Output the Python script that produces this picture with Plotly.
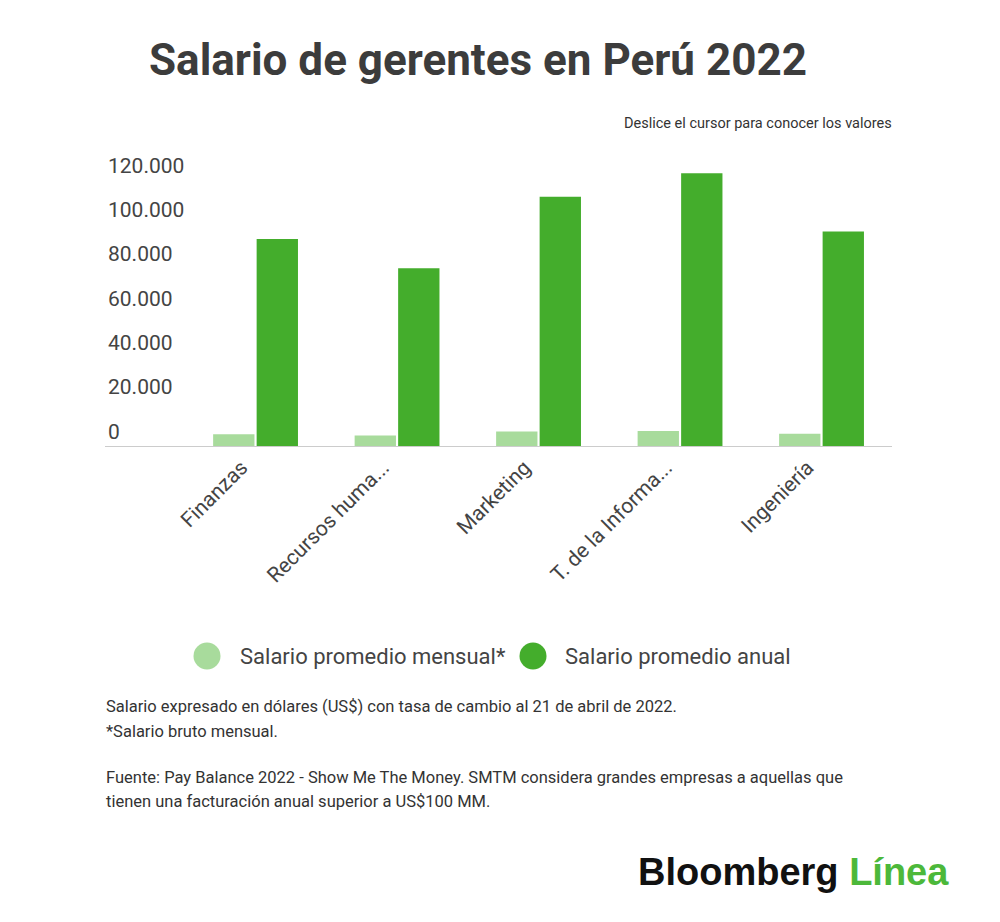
import plotly.graph_objects as go

categories = ["Finanzas", "Recursos huma...", "Marketing", "T. de la Informa...", "Ingeniería"]
mensual = [5300, 4700, 6500, 6800, 5500]
anual = [93500, 80200, 112500, 123100, 96800]
y_ticks = [0, 20000, 40000, 60000, 80000, 100000, 120000]

LIGHT = "#a8db9c"
DARK = "#44ad2c"
W, H = 1000, 922
OFF = 8  # page body margin


def px_x(x):
    return (x - OFF) / W


def px_y(y):
    return (H - (y - OFF)) / H


fig = go.Figure()
fig.add_trace(go.Bar(x=list(range(len(categories))), y=mensual, name="Salario promedio mensual*",
                     marker=dict(color=LIGHT, line=dict(width=0))))
fig.add_trace(go.Bar(x=list(range(len(categories))), y=anual, name="Salario promedio anual",
                     marker=dict(color=DARK, line=dict(width=0))))

fig.update_layout(
    width=W, height=H,
    margin=dict(l=0, r=0, t=0, b=0),
    paper_bgcolor="white", plot_bgcolor="white",
    separators=",.",
    barmode="group", bargap=0.385, bargroupgap=0.05,
    showlegend=False,
    font=dict(family="Roboto", color="#444444"),
    xaxis=dict(
        domain=[px_x(105), px_x(892)],
        range=[-1.064, 4.498],
        tickmode="array", tickvals=list(range(len(categories))), ticktext=categories,
        tickangle=-45, tickfont=dict(family="Roboto", size=21, color="#444444"),
        ticklabelshift=-14,
        showline=True, linecolor="#cccccc", linewidth=1,
        showgrid=False, zeroline=False, ticks="",
    ),
    yaxis=dict(
        domain=[px_y(446), px_y(150)],
        range=[0, 133640],
        tickmode="array", tickvals=y_ticks, tickformat=",d",
        ticklabelposition="inside top",
        tickfont=dict(family="Roboto", size=21, color="#444444"),
        showgrid=False, zeroline=False, showline=False, ticks="",
    ),
)

ann = []
ann.append(dict(text="<b>Salario de gerentes en Perú 2022</b>", x=px_x(478), y=px_y(60),
                xref="paper", yref="paper", xanchor="center", yanchor="middle", showarrow=False,
                font=dict(family="Roboto", size=44, color="#3c3c3c")))
ann.append(dict(text="Deslice el cursor para conocer los valores", x=px_x(894), y=px_y(124),
                xref="paper", yref="paper", xanchor="right", yanchor="middle", showarrow=False,
                font=dict(family="Roboto", size=14.5, color="#333333")))

# legend
shapes = []
for cx, col, label, tx in [(207, LIGHT, "Salario promedio mensual*", 238), (533, DARK, "Salario promedio anual", 563)]:
    r = 13.5
    shapes.append(dict(type="circle", xref="paper", yref="paper",
                       x0=px_x(cx - r), x1=px_x(cx + r), y0=px_y(656 + r), y1=px_y(656 - r),
                       fillcolor=col, line=dict(width=0)))
    ann.append(dict(text=label, x=px_x(tx), y=px_y(656), xref="paper", yref="paper",
                    xanchor="left", yanchor="middle", showarrow=False,
                    font=dict(family="Roboto", size=22, color="#444444")))

notes = [
    ("Salario expresado en dólares (US$) con tasa de cambio al 21 de abril de 2022.", 706),
    ("*Salario bruto mensual.", 731),
    ("Fuente: Pay Balance 2022 - Show Me The Money. SMTM considera grandes empresas a aquellas que", 777),
    ("tienen una facturación anual superior a US$100 MM.", 801),
]
for t, yy in notes:
    ann.append(dict(text=t, x=px_x(104), y=px_y(yy), xref="paper", yref="paper",
                    xanchor="left", yanchor="middle", showarrow=False,
                    font=dict(family="Roboto", size=16.5, color="#333333")))

ann.append(dict(text="<b>Bloomberg <span style='color:#4cb83a'>Línea</span></b>",
                x=px_x(793), y=px_y(872), xref="paper", yref="paper",
                xanchor="center", yanchor="middle", showarrow=False,
                font=dict(family="Liberation Sans", size=38, color="#111111")))

fig.update_layout(annotations=ann, shapes=shapes)
fig.write_html("out.html")
